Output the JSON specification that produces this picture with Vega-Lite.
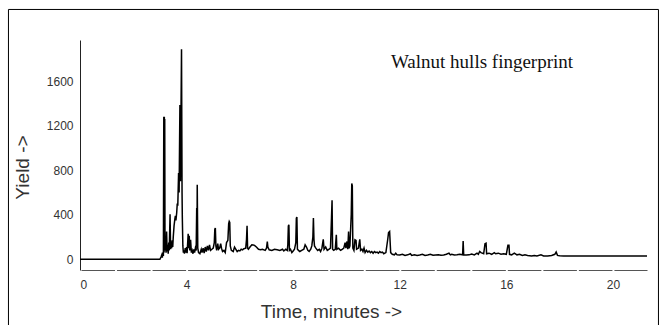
{
  "$schema": "https://vega.github.io/schema/vega-lite/v6.json",
  "width": 567,
  "height": 230,
  "autosize": "none",
  "padding": {"left": 80, "top": 40, "right": 14, "bottom": 55},
  "background": "white",
  "config": {"view": {"stroke": null}},
  "datasets": {
    "trace": [
      {"t":0,"y":0},{"t":3.0,"y":0},{"t":3.04,"y":20},{"t":3.07,"y":40},{"t":3.09,"y":15},{"t":3.11,"y":60},{"t":3.13,"y":30},
      {"t":3.145,"y":1280},{"t":3.155,"y":60},{"t":3.165,"y":1280},{"t":3.175,"y":80},{"t":3.18,"y":1260},{"t":3.19,"y":80},{"t":3.21,"y":120},{"t":3.23,"y":60},
      {"t":3.25,"y":250},{"t":3.27,"y":70},{"t":3.29,"y":130},{"t":3.31,"y":50},{"t":3.33,"y":150},{"t":3.35,"y":80},
      {"t":3.38,"y":405},{"t":3.40,"y":90},{"t":3.42,"y":160},{"t":3.44,"y":100},{"t":3.46,"y":170},{"t":3.48,"y":110},
      {"t":3.50,"y":200},{"t":3.53,"y":300},{"t":3.56,"y":360},{"t":3.58,"y":390},{"t":3.60,"y":350},{"t":3.63,"y":420},
      {"t":3.65,"y":500},{"t":3.67,"y":480},{"t":3.70,"y":775},{"t":3.72,"y":600},{"t":3.75,"y":1385},{"t":3.77,"y":700},
      {"t":3.81,"y":1885},{"t":3.83,"y":600},{"t":3.84,"y":380},{"t":3.86,"y":120},{"t":3.88,"y":60},{"t":3.90,"y":80},
      {"t":3.92,"y":50},{"t":3.95,"y":100},{"t":3.97,"y":60},{"t":4.00,"y":110},{"t":4.02,"y":55},{"t":4.06,"y":230},
      {"t":4.08,"y":100},{"t":4.10,"y":210},{"t":4.12,"y":80},{"t":4.15,"y":175},{"t":4.18,"y":60},{"t":4.21,"y":80},
      {"t":4.24,"y":50},{"t":4.27,"y":90},{"t":4.30,"y":60},{"t":4.33,"y":100},{"t":4.36,"y":80},{"t":4.38,"y":460},
      {"t":4.39,"y":120},{"t":4.40,"y":670},{"t":4.42,"y":100},{"t":4.45,"y":60},{"t":4.50,"y":50},{"t":4.55,"y":90},
      {"t":4.58,"y":60},{"t":4.62,"y":100},{"t":4.66,"y":55},{"t":4.70,"y":110},{"t":4.74,"y":70},{"t":4.78,"y":120},
      {"t":4.82,"y":80},{"t":4.86,"y":130},{"t":4.90,"y":80},{"t":4.95,"y":90},{"t":5.00,"y":100},{"t":5.04,"y":150},
      {"t":5.06,"y":270},{"t":5.08,"y":280},{"t":5.10,"y":120},{"t":5.13,"y":80},{"t":5.17,"y":140},{"t":5.20,"y":90},
      {"t":5.24,"y":100},{"t":5.28,"y":140},{"t":5.31,"y":100},{"t":5.35,"y":70},{"t":5.40,"y":80},{"t":5.45,"y":60},
      {"t":5.50,"y":150},{"t":5.55,"y":170},{"t":5.58,"y":320},{"t":5.60,"y":340},{"t":5.62,"y":330},{"t":5.64,"y":120},
      {"t":5.68,"y":80},{"t":5.75,"y":70},{"t":5.80,"y":110},{"t":5.85,"y":90},{"t":5.90,"y":70},{"t":5.95,"y":80},
      {"t":6.00,"y":75},{"t":6.05,"y":90},{"t":6.10,"y":85},{"t":6.15,"y":95},{"t":6.22,"y":100},{"t":6.25,"y":180},
      {"t":6.27,"y":300},{"t":6.29,"y":100},{"t":6.32,"y":90},{"t":6.38,"y":110},{"t":6.45,"y":130},{"t":6.50,"y":128},
      {"t":6.55,"y":125},{"t":6.62,"y":110},{"t":6.70,"y":90},{"t":6.78,"y":85},{"t":6.85,"y":90},{"t":6.95,"y":80},
      {"t":7.00,"y":100},{"t":7.03,"y":160},{"t":7.05,"y":110},{"t":7.10,"y":85},{"t":7.20,"y":80},{"t":7.30,"y":90},
      {"t":7.40,"y":85},{"t":7.50,"y":80},{"t":7.60,"y":90},{"t":7.65,"y":75},{"t":7.72,"y":90},{"t":7.78,"y":80},
      {"t":7.80,"y":130},{"t":7.82,"y":300},{"t":7.84,"y":310},{"t":7.86,"y":80},{"t":7.90,"y":90},{"t":7.95,"y":60},
      {"t":8.00,"y":75},{"t":8.05,"y":90},{"t":8.10,"y":150},{"t":8.12,"y":370},{"t":8.14,"y":380},{"t":8.16,"y":90},
      {"t":8.20,"y":80},{"t":8.25,"y":70},{"t":8.32,"y":80},{"t":8.40,"y":90},{"t":8.45,"y":130},{"t":8.50,"y":110},
      {"t":8.55,"y":80},{"t":8.60,"y":70},{"t":8.66,"y":90},{"t":8.70,"y":120},{"t":8.74,"y":200},{"t":8.76,"y":370},
      {"t":8.78,"y":180},{"t":8.80,"y":120},{"t":8.85,"y":100},{"t":8.92,"y":80},{"t":8.98,"y":90},{"t":9.03,"y":70},
      {"t":9.08,"y":100},{"t":9.13,"y":180},{"t":9.16,"y":90},{"t":9.22,"y":110},{"t":9.28,"y":80},{"t":9.34,"y":90},
      {"t":9.40,"y":100},{"t":9.44,"y":380},{"t":9.46,"y":530},{"t":9.48,"y":90},{"t":9.52,"y":80},{"t":9.58,"y":90},
      {"t":9.62,"y":220},{"t":9.64,"y":90},{"t":9.70,"y":100},{"t":9.78,"y":80},{"t":9.84,"y":90},{"t":9.90,"y":100},
      {"t":9.95,"y":150},{"t":9.98,"y":100},{"t":10.02,"y":160},{"t":10.05,"y":90},{"t":10.08,"y":250},{"t":10.10,"y":100},
      {"t":10.13,"y":120},{"t":10.18,"y":400},{"t":10.20,"y":680},{"t":10.22,"y":660},{"t":10.24,"y":100},{"t":10.28,"y":80},
      {"t":10.32,"y":175},{"t":10.36,"y":170},{"t":10.38,"y":90},{"t":10.45,"y":100},{"t":10.50,"y":180},{"t":10.53,"y":80},
      {"t":10.58,"y":90},{"t":10.62,"y":70},{"t":10.66,"y":100},{"t":10.70,"y":60},{"t":10.75,"y":80},{"t":10.80,"y":65},
      {"t":10.85,"y":75},{"t":10.90,"y":60},{"t":10.95,"y":70},{"t":11.00,"y":55},{"t":11.05,"y":70},{"t":11.10,"y":60},
      {"t":11.15,"y":65},{"t":11.20,"y":55},{"t":11.25,"y":70},{"t":11.30,"y":60},{"t":11.35,"y":65},{"t":11.40,"y":50},
      {"t":11.48,"y":60},{"t":11.55,"y":180},{"t":11.58,"y":240},{"t":11.62,"y":250},{"t":11.66,"y":60},{"t":11.72,"y":45},
      {"t":11.80,"y":40},{"t":11.85,"y":55},{"t":11.90,"y":40},{"t":12.00,"y":38},{"t":12.10,"y":45},{"t":12.20,"y":35},
      {"t":12.30,"y":40},{"t":12.40,"y":50},{"t":12.45,"y":35},{"t":12.55,"y":40},{"t":12.65,"y":35},{"t":12.75,"y":38},
      {"t":12.85,"y":45},{"t":12.95,"y":35},{"t":13.05,"y":38},{"t":13.15,"y":45},{"t":13.25,"y":36},{"t":13.35,"y":38},
      {"t":13.45,"y":40},{"t":13.55,"y":36},{"t":13.65,"y":38},{"t":13.75,"y":45},{"t":13.85,"y":55},{"t":13.90,"y":40},
      {"t":13.95,"y":45},{"t":14.05,"y":38},{"t":14.15,"y":40},{"t":14.25,"y":45},{"t":14.36,"y":40},{"t":14.38,"y":165},
      {"t":14.40,"y":40},{"t":14.50,"y":38},{"t":14.60,"y":40},{"t":14.70,"y":48},{"t":14.80,"y":40},{"t":14.90,"y":55},
      {"t":14.95,"y":45},{"t":15.00,"y":70},{"t":15.05,"y":60},{"t":15.15,"y":50},{"t":15.20,"y":140},{"t":15.24,"y":145},
      {"t":15.26,"y":50},{"t":15.35,"y":55},{"t":15.45,"y":45},{"t":15.55,"y":60},{"t":15.60,"y":50},{"t":15.70,"y":55},
      {"t":15.80,"y":45},{"t":15.90,"y":50},{"t":16.00,"y":45},{"t":16.06,"y":125},{"t":16.10,"y":125},{"t":16.12,"y":45},
      {"t":16.20,"y":40},{"t":16.30,"y":55},{"t":16.40,"y":40},{"t":16.50,"y":45},{"t":16.60,"y":35},{"t":16.70,"y":40},
      {"t":16.80,"y":35},{"t":16.95,"y":30},{"t":17.05,"y":35},{"t":17.15,"y":30},{"t":17.30,"y":40},{"t":17.40,"y":30},
      {"t":17.55,"y":30},{"t":17.70,"y":35},{"t":17.82,"y":45},{"t":17.87,"y":65},{"t":17.92,"y":35},{"t":18.00,"y":32},
      {"t":18.15,"y":30},{"t":21.28,"y":30}
    ],
    "note": [{"t": 11.67, "y": 1771, "label": "Walnut hulls fingerprint"}]
  },
  "layer": [
    {
      "data": {"values": [{}]},
      "mark": {"type": "rect", "filled": false, "stroke": "#000", "strokeWidth": 1, "clip": false},
      "encoding": {
        "x": {"datum": -2.685, "type": "quantitative"},
        "x2": {"datum": 21.71},
        "y": {"datum": 2242, "type": "quantitative"},
        "y2": {"datum": -900}
      }
    },
    {
      "data": {"name": "trace"},
      "mark": {"type": "line", "color": "#000", "strokeWidth": 1.5, "interpolate": "linear"},
      "encoding": {
        "x": {
          "field": "t", "type": "quantitative",
          "scale": {"domain": [0, 21.28], "nice": false, "zero": false},
          "axis": {
            "title": "Time, minutes ->",
            "values": [0, 4, 8, 12, 16, 20],
            "format": "d",
            "grid": false,
            "ticks": false,
            "domain": true,
            "domainColor": "#555",
            "domainWidth": 1,
            "domainDash": [33.53, 2],
            "domainDashOffset": -1,
            "labelFont": "Liberation Sans",
            "labelFontSize": 12,
            "labelColor": "#333",
            "labelPadding": 9,
            "titleFont": "Liberation Sans",
            "titleFontSize": 19,
            "titleFontWeight": "normal",
            "titleColor": "#333",
            "titlePadding": 12,
            "titleX": 251
          }
        },
        "y": {
          "field": "y", "type": "quantitative",
          "scale": {"domain": [-96, 1968], "nice": false, "zero": false},
          "axis": {
            "title": "Yield ->",
            "values": [0, 400, 800, 1200, 1600],
            "format": "d",
            "grid": false,
            "ticks": false,
            "domain": true,
            "domainColor": "#222",
            "domainWidth": 1,
            "labelFont": "Liberation Sans",
            "labelFontSize": 12,
            "labelColor": "#333",
            "labelPadding": 7,
            "titleFont": "Liberation Sans",
            "titleFontSize": 19,
            "titleFontWeight": "normal",
            "titleColor": "#333",
            "titlePadding": 14,
            "titleY": 127
          }
        }
      }
    },
    {
      "data": {"name": "note"},
      "mark": {"type": "text", "align": "left", "baseline": "middle", "font": "Liberation Serif", "fontSize": 19, "color": "#111"},
      "encoding": {
        "x": {"field": "t", "type": "quantitative"},
        "y": {"field": "y", "type": "quantitative"},
        "text": {"field": "label"}
      }
    }
  ]
}
